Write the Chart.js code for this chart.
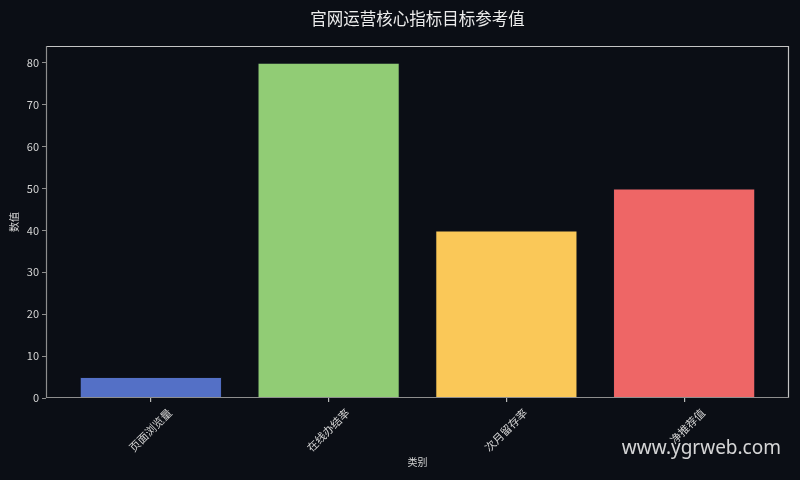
<!DOCTYPE html>
<html>
<head>
<meta charset="utf-8">
<script src="https://cdn.jsdelivr.net/npm/chart.js@4"></script>
<style>
  html, body { margin: 0; padding: 0; background: #0b0e15; }
  #wrap { width: 800px; height: 480px; }
</style>
</head>
<body>
<div id="wrap"><canvas id="chart"></canvas></div>
<script>
// 数据
const categories = ['页面浏览量', '在线办结率', '次月留存率', '净推荐值'];
const values = [5, 80, 40, 50];
const barColors = ['#5470c6', '#91cc75', '#fac858', '#ee6666'];
const yTicks = [0, 10, 20, 30, 40, 50, 60, 70, 80];

const FONT = '"Noto Sans CJK SC", "DejaVu Sans", sans-serif';
const textColor = '#d4d4d4';
const axisColor = '#8e8e8e';
const frameColor = '#c4c4c4';

// 标题、边框和水印
const decorPlugin = {
  id: 'decor',
  beforeDraw(chart) {
    const ctx = chart.ctx;
    ctx.save();
    ctx.fillStyle = '#0b0e15';
    ctx.fillRect(0, 0, chart.width, chart.height);
    ctx.restore();
  },
  afterDraw(chart) {
    const ctx = chart.ctx;
    const a = chart.chartArea;
    ctx.save();
    ctx.lineWidth = 1.2;
    // 上、右边框
    ctx.strokeStyle = frameColor;
    ctx.beginPath();
    ctx.moveTo(a.left, a.top + 0.5);
    ctx.lineTo(a.right - 0.5, a.top + 0.5);
    ctx.lineTo(a.right - 0.5, a.bottom);
    ctx.stroke();
    // 左、下坐标轴
    ctx.strokeStyle = axisColor;
    ctx.beginPath();
    ctx.moveTo(a.left + 0.5, a.top);
    ctx.lineTo(a.left + 0.5, a.bottom - 0.5);
    ctx.lineTo(a.right, a.bottom - 0.5);
    ctx.stroke();

    ctx.fillStyle = '#ececec';
    ctx.font = '16.5px ' + FONT;
    ctx.textAlign = 'center';
    ctx.textBaseline = 'middle';
    ctx.fillText('官网运营核心指标目标参考值', (a.left + a.right) / 2, 19);

    ctx.fillStyle = 'rgba(235,235,235,0.9)';
    ctx.font = '19px "Noto Sans", "DejaVu Sans", sans-serif';
    ctx.textAlign = 'right';
    ctx.fillText('www.ygrweb.com', 781, 449);
    ctx.restore();
  }
};

const ctx = document.getElementById('chart').getContext('2d');
new Chart(ctx, {
  type: 'bar',
  data: {
    datasets: [{
      data: values.map((v, i) => ({ x: i, y: v })),
      backgroundColor: barColors,
      borderColor: 'rgba(20,25,40,0.55)',
      borderWidth: 1,
      barPercentage: 0.8,
      categoryPercentage: 1.0
    }]
  },
  options: {
    responsive: true,
    maintainAspectRatio: false,
    animation: false,
    layout: { padding: { top: 46, right: 11, left: 0, bottom: 0 } },
    plugins: {
      legend: { display: false },
      title: { display: false },
      tooltip: { enabled: false }
    },
    scales: {
      x: {
        type: 'linear',
        min: -0.59,
        max: 3.59,
        offset: false,
        afterBuildTicks: (scale) => { scale.ticks = categories.map((c, i) => ({ value: i })); },
        afterFit: (scale) => { scale.height = 82; },
        grid: { display: true, offset: false, drawOnChartArea: false, color: '#b8b8b8', lineWidth: 1.2, tickLength: 4 },
        border: { display: false },
        ticks: {
          color: textColor,
          font: { family: FONT, size: 11 },
          minRotation: 45,
          maxRotation: 45,
          labelOffset: 19,
          padding: 4,
          callback: (v) => categories[v]
        },
        title: {
          display: true,
          text: '类别',
          color: textColor,
          font: { family: FONT, size: 10 },
          padding: { top: 0, bottom: 12 }
        }
      },
      y: {
        min: 0,
        max: 84,
        afterBuildTicks: (scale) => { scale.ticks = yTicks.map(v => ({ value: v })); },
        afterFit: (scale) => { scale.width = 46; },
        grid: { display: true, drawOnChartArea: false, color: axisColor, tickLength: 4 },
        border: { display: false },
        ticks: {
          color: textColor,
          font: { family: FONT, size: 11 },
          padding: 3
        },
        title: {
          display: true,
          text: '数值',
          color: textColor,
          font: { family: FONT, size: 10 },
          padding: { top: 8, bottom: 0 }
        }
      }
    }
  },
  plugins: [decorPlugin]
});
</script>
</body>
</html>
